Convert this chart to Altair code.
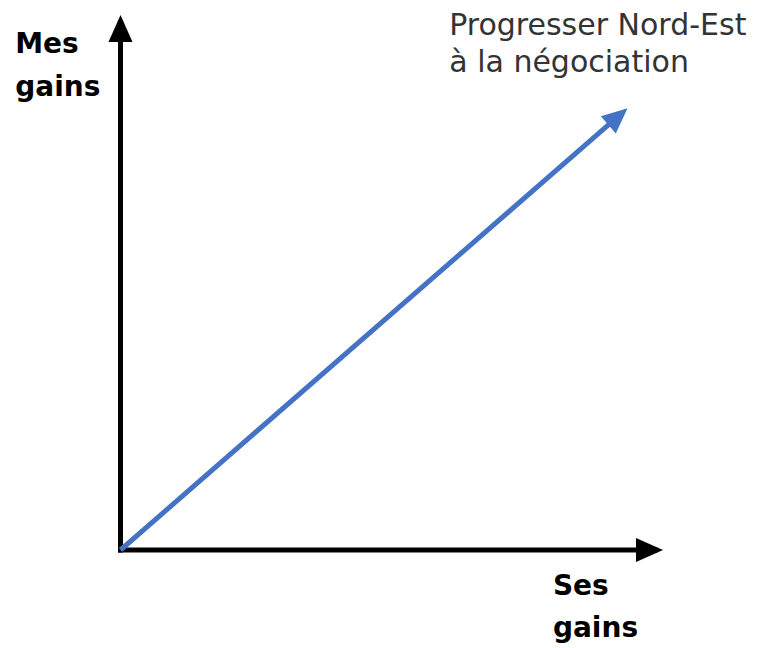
import math
import altair as alt
import pandas as pd

# ---- data (in chart units: both axes run from 0 to 100) ----
axis_names = ["Ses gains", "Mes gains"]
axis_x_end = [100, 0]
axis_y_end = [0, 100]
arrow_name = ["Progresser Nord-Est"]
arrow_x_end = [93.8]
arrow_y_end = [82.9]
label_texts = ["Mes\ngains", "Ses\ngains", "Progresser Nord-Est\nà la négociation"]
label_x = [-19.7, 80.9, 61.5]
label_y = [94.3, -8.5, 97.7]

# ---- layout ----
W, H = 762, 640
ox, oy = 112.5, 542.0        # origin in pixels
kx, ky = 5.345, 5.27         # pixels per unit
xdom = [-ox / kx, (W - ox) / kx]
ydom = [-(H - oy) / ky, oy / ky]
xs = alt.Scale(domain=xdom, nice=False, zero=False)
ys = alt.Scale(domain=ydom, nice=False, zero=False)
X = lambda f: alt.X(f, type="quantitative", scale=xs, axis=None)
Y = lambda f: alt.Y(f, type="quantitative", scale=ys, axis=None)

axes = pd.DataFrame({"name": axis_names, "x0": 0, "y0": 0,
                     "x1": axis_x_end, "y1": axis_y_end})
arrow = pd.DataFrame({"name": arrow_name, "x0": 0, "y0": 0,
                      "x1": arrow_x_end, "y1": arrow_y_end})
labels = pd.DataFrame({"t": label_texts, "x": label_x, "y": label_y})

head = "M0,-0.593L0.889,1.407L-0.889,1.407Z"

axis_lines = alt.Chart(axes).mark_rule(color="black", strokeWidth=5, strokeCap="square").encode(
    x=X("x0"), y=Y("y0"), x2="x1", y2="y1")
head_v = alt.Chart(axes.iloc[[1]]).mark_point(shape=head, filled=True, size=729, color="black",
                                             opacity=1, angle=0).encode(x=X("x1"), y=Y("y1"))
head_h = alt.Chart(axes.iloc[[0]]).mark_point(shape=head, filled=True, size=729, color="black",
                                             opacity=1, angle=90).encode(x=X("x1"), y=Y("y1"))

ang = math.degrees(math.atan2(arrow_x_end[0] * kx, arrow_y_end[0] * ky))
blue_line = alt.Chart(arrow).mark_rule(color="#4472C4", strokeWidth=5).encode(
    x=X("x0"), y=Y("y0"), x2="x1", y2="y1")
blue_head = alt.Chart(arrow).mark_point(shape=head, filled=True, size=650, color="#4472C4",
                                        opacity=1, angle=ang).encode(x=X("x1"), y=Y("y1"))

bold = alt.Chart(labels.iloc[:2]).mark_text(
    font="DejaVu Sans", fontWeight="bold", fontSize=28, color="black",
    align="left", baseline="alphabetic", lineBreak="\n", lineHeight=42.5
).encode(x=X("x"), y=Y("y"), text="t:N")
note = alt.Chart(labels.iloc[[2]]).mark_text(
    font="DejaVu Sans", fontSize=30, color="#333333",
    align="left", baseline="alphabetic", lineBreak="\n", lineHeight=37
).encode(x=X("x"), y=Y("y"), text="t:N")

chart = alt.layer(axis_lines, blue_line, head_v, head_h, blue_head, bold, note).properties(
    width=W, height=H, padding=0, autosize=alt.AutoSizeParams(type="none"),
    background="white"
).configure_view(stroke=None)

chart.save("out.html", embed_options={"renderer": "svg", "actions": False})
